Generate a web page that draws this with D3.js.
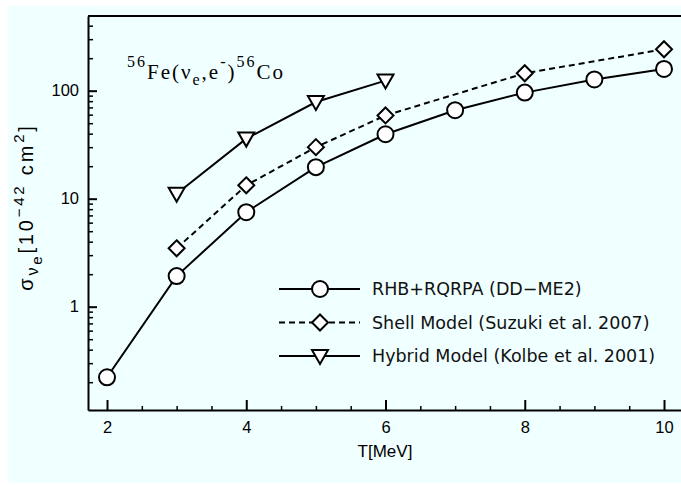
<!DOCTYPE html>
<html lang="en">
<head>
  <meta charset="utf-8">
  <title>56Fe neutrino cross section</title>
  <script src="https://d3js.org/d3.v7.min.js"></script>
  <style>
    body { margin: 0; background: #fff; }
    .axis text { font-family: "Liberation Sans", Arial, sans-serif; font-size: 16.5px; fill: #000; }
    .axis path, .axis line { stroke: #000; }
  </style>
</head>
<body>
<div id="chart"></div>
<script>
// data
const rhbT = [2, 3, 4, 5, 6, 7, 8, 9, 10];
const rhbSigma = [0.222, 1.92, 7.5, 19.6, 39.5, 66, 96, 127, 159];
const shellT = [3, 4, 5, 6, 8, 10];
const shellSigma = [3.47, 13.3, 30, 59, 145, 242];
const hybridT = [3, 4, 5, 6];
const hybridSigma = [11.1, 36, 78.5, 124];
const xTicks = [2, 4, 6, 8, 10];
const yTicks = [1, 10, 100];
const legendLabels = ["RHB+RQRPA (DD\u2212ME2)", "Shell Model (Suzuki et al. 2007)", "Hybrid Model (Kolbe et al. 2001)"];

const width = 681, height = 485;
const plotL = 88, plotR = 681, plotT = 16, plotB = 410;

const svg = d3.select("#chart").append("svg")
    .attr("width", width)
    .attr("height", height);

svg.append("rect")
    .attr("x", 8).attr("y", 6)
    .attr("width", width - 8).attr("height", height - 8)
    .attr("fill", "#f0ffff");

let x = d3.scaleLinear().domain([1.727, 10.244]).range([plotL, plotR]);
let y = d3.scaleLog().domain([0.1105, 491.6]).range([plotB, plotT]);

// minor ticks
const xMinor = d3.range(2, 10.01, 0.5).filter(d => !xTicks.includes(d));
const yMinor = [];
[0.1, 1, 10, 100].forEach(dec => {
  for (let k = 2; k <= 9; k++) {
    const v = k * dec;
    if (v > 0.1105 && v < 491.6) yMinor.push(v);
  }
});

const g = svg.append("g");

g.append("g")
    .attr("class", "axis")
    .attr("transform", `translate(0,${plotB})`)
    .call(d3.axisBottom(x).tickValues(xMinor).tickSize(-4).tickSizeOuter(0).tickFormat(""))
    .call(g => g.select(".domain").remove())
    .call(g => g.selectAll("line").attr("stroke-width", 1.5));

g.append("g")
    .attr("class", "axis")
    .attr("transform", `translate(0,${plotB})`)
    .call(d3.axisBottom(x).tickValues(xTicks).tickSizeInner(-10).tickSizeOuter(0).tickPadding(11).tickFormat(d3.format("d")))
    .call(g => g.select(".domain").attr("stroke-width", 2))
    .call(g => g.selectAll("line").attr("stroke-width", 2));

g.append("g")
    .attr("class", "axis")
    .attr("transform", `translate(${plotL},0)`)
    .call(d3.axisLeft(y).tickValues(yMinor).tickSize(-5).tickSizeOuter(0).tickFormat(""))
    .call(g => g.select(".domain").remove())
    .call(g => g.selectAll("line").attr("stroke-width", 1.5));

g.append("g")
    .attr("class", "axis")
    .attr("transform", `translate(${plotL},0)`)
    .call(d3.axisLeft(y).tickValues(yTicks).tickSizeInner(-9).tickSizeOuter(0).tickPadding(9).tickFormat(d3.format("d")))
    .call(g => g.select(".domain").attr("stroke-width", 2))
    .call(g => g.selectAll("line").attr("stroke-width", 2));

// top frame line
g.append("line")
    .attr("x1", plotL).attr("x2", plotR)
    .attr("y1", plotT).attr("y2", plotT)
    .attr("stroke", "#000").attr("stroke-width", 2);

// series
const series = [
  {t: rhbT, s: rhbSigma, dash: null, sym: "circle"},
  {t: shellT, s: shellSigma, dash: "6,4", sym: "diamond"},
  {t: hybridT, s: hybridSigma, dash: null, sym: "triangle"}
];

const line = d3.line().x(d => x(d[0])).y(d => y(d[1]));

function drawSymbol(sel, sym) {
  if (sym === "circle") {
    sel.append("circle").attr("r", 8);
  } else if (sym === "diamond") {
    sel.append("path").attr("d", "M0,-8L8,0L0,8L-8,0Z");
  } else {
    sel.append("path").attr("d", "M-8,-6L8,-6L0,8Z");
  }
  sel.selectAll("circle,path")
      .attr("fill", "#fff")
      .attr("stroke", "#000")
      .attr("stroke-width", 2);
}

series.forEach(sr => {
  const pts = sr.t.map((t, i) => [t, sr.s[i]]);
  g.append("path")
      .datum(pts)
      .attr("d", line)
      .attr("fill", "none")
      .attr("stroke", "#000")
      .attr("stroke-width", 2)
      .attr("stroke-dasharray", sr.dash);
  g.append("g").selectAll("g")
    .data(pts)
    .join("g")
      .attr("transform", d => `translate(${x(d[0])},${y(d[1])})`)
      .each(function() { drawSymbol(d3.select(this), sr.sym); });
});

// legend
const legend = svg.append("g")
  .selectAll("g")
  .data(series)
  .join("g")
    .attr("transform", (d, i) => `translate(279,${289 + i * 33.5})`);

legend.append("line")
    .attr("x1", 0).attr("x2", 81)
    .attr("stroke", "#000").attr("stroke-width", 2)
    .attr("stroke-dasharray", d => d.dash);

legend.append("g")
    .attr("transform", "translate(41,0)")
    .each(function(d) { drawSymbol(d3.select(this), d.sym); });

legend.append("text")
    .attr("x", 93)
    .attr("dy", "0.36em")
    .style("font-family", "'DejaVu Sans', sans-serif")
    .style("font-size", "17.5px")
    .style("fill", "#111")
    .text((d, i) => legendLabels[i]);

// reaction annotation
const ann = svg.append("text")
    .attr("x", 127).attr("y", 79)
    .style("font-family", "'Liberation Serif', 'Times New Roman', serif")
    .style("font-size", "21px")
    .style("letter-spacing", "2px");
ann.append("tspan").attr("dy", -12).style("font-size", "16px").text("56");
ann.append("tspan").attr("dy", 12).text("Fe(\u03bd");
ann.append("tspan").attr("dy", 6).style("font-size", "16px").text("e");
ann.append("tspan").attr("dy", -6).text(",e");
ann.append("tspan").attr("dy", -12).style("font-size", "16px").text("-");
ann.append("tspan").attr("dy", 12).text(")");
ann.append("tspan").attr("dy", -12).style("font-size", "16px").text("56");
ann.append("tspan").attr("dy", 12).text("Co");

// axis titles
svg.append("text")
    .attr("x", 385).attr("y", 457)
    .attr("text-anchor", "middle")
    .style("font-family", "'Liberation Sans', Arial, sans-serif")
    .style("font-size", "17px")
    .text("T[MeV]");

const yl = svg.append("text")
    .attr("transform", "translate(33,207) rotate(-90)")
    .attr("text-anchor", "middle")
    .style("font-family", "'Liberation Sans', Arial, sans-serif")
    .style("font-size", "20px")
    .style("letter-spacing", "2.8px");
yl.append("tspan").text("\u03c3");
yl.append("tspan").attr("dy", 5).style("font-size", "16px").text("\u03bd");
yl.append("tspan").attr("dy", 4).style("font-size", "15px").text("e");
yl.append("tspan").attr("dy", -9).text("[10");
yl.append("tspan").attr("dy", -9).style("font-size", "15px").text("\u221242");
yl.append("tspan").attr("dy", 9).text(" cm");
yl.append("tspan").attr("dy", -9).style("font-size", "15px").text("2");
yl.append("tspan").attr("dy", 9).text("]");
</script>
</body>
</html>
